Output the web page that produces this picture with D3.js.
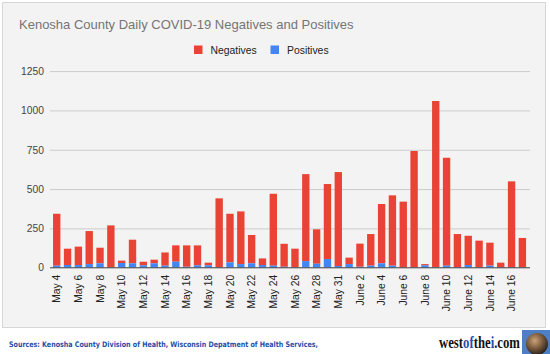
<!DOCTYPE html>
<html lang="en">
<head>
    <meta charset="UTF-8">
    <title>Kenosha County Daily COVID-19 Negatives and Positives</title>
    <script src="https://d3js.org/d3.v7.min.js"></script>
    <style>
        body { margin: 0; background: #fff; }
    </style>
</head>
<body>
    <svg id="chart" width="550" height="354"></svg>
    <script>
        // values
        const dates = ["May 4", "May 5", "May 6", "May 7", "May 8", "May 9", "May 10", "May 11", "May 12", "May 13",
            "May 14", "May 15", "May 16", "May 17", "May 18", "May 19", "May 20", "May 21", "May 22", "May 23",
            "May 24", "May 25", "May 26", "May 27", "May 28", "May 29", "May 31", "June 1", "June 2", "June 3",
            "June 4", "June 5", "June 6", "June 7", "June 8", "June 9", "June 10", "June 11", "June 12", "June 13",
            "June 14", "June 15", "June 16", "June 17"];
        const negatives = [330, 104, 117, 210, 99, 267, 15, 150, 23, 23,
            84, 104, 136, 127, 17, 437, 309, 335, 180, 42,
            457, 146, 117, 553, 219, 477, 597, 41, 147, 201,
            377, 447, 418, 738, 8, 1057, 686, 210, 186, 168,
            146, 28, 545, 185];
        const positives = [13, 17, 17, 23, 28, 2, 30, 28, 15, 28,
            13, 38, 6, 15, 15, 4, 34, 23, 28, 17,
            13, 6, 4, 42, 25, 55, 11, 23, 6, 13,
            28, 13, 2, 4, 15, 3, 13, 4, 17, 4,
            13, 4, 4, 4];
        const yTicks = [0, 250, 500, 750, 1000, 1250];
        const xTickLabels = dates.filter((d, i) => i % 2 === 0);

        const svg = d3.select("#chart");
        const font = "Arial, 'Liberation Sans', sans-serif";

        // panel
        svg.append("rect")
            .attr("x", 2.5).attr("y", 2.5)
            .attr("width", 543).attr("height", 325)
            .attr("fill", "#f3f3f3")
            .attr("stroke", "#d6d6d6");

        const xScale = d3.scaleBand()
            .domain(dates)
            .range([51.3, 527.8])
            .paddingInner(0.32)
            .paddingOuter(0.16);

        const yScale = d3.scaleLinear()
            .domain([0, 1250])
            .range([267.7, 71.1]);

        // gridlines + y labels
        svg.append("g")
            .attr("transform", "translate(50,0)")
            .call(d3.axisLeft(yScale).tickValues(yTicks).tickFormat(d3.format("d")).tickSize(-480).tickPadding(6))
            .call(g => g.select(".domain").remove())
            .call(g => g.selectAll(".tick line").attr("stroke", "#cccccc"))
            .call(g => g.selectAll(".tick text")
                .attr("fill", "#444")
                .style("font-family", font)
                .style("font-size", "10.3px"));

        // stacked bars: positives at the bottom, negatives above
        const bars = svg.append("g");
        dates.forEach((d, i) => {
            const x = xScale(d);
            const w = xScale.bandwidth();
            bars.append("rect")
                .attr("x", x).attr("width", w)
                .attr("y", yScale(positives[i] + negatives[i]))
                .attr("height", yScale(positives[i]) - yScale(positives[i] + negatives[i]))
                .attr("fill", "#ea4335");
            bars.append("rect")
                .attr("x", x).attr("width", w)
                .attr("y", yScale(positives[i]))
                .attr("height", yScale(0) - yScale(positives[i]))
                .attr("fill", "#4285f4");
        });

        // baseline
        svg.append("line")
            .attr("x1", 50).attr("x2", 530)
            .attr("y1", yScale(0)).attr("y2", yScale(0))
            .attr("stroke", "#555").attr("stroke-width", 1);

        // x labels, rotated
        svg.append("g")
            .attr("transform", `translate(0,${yScale(0)})`)
            .call(d3.axisBottom(xScale).tickValues(xTickLabels).tickSize(0))
            .call(g => g.select(".domain").remove())
            .call(g => g.selectAll(".tick text")
                .attr("transform", "rotate(-90)")
                .attr("text-anchor", "end")
                .attr("x", -7)
                .attr("y", 0)
                .attr("dy", "0.35em")
                .attr("fill", "#222")
                .style("font-family", font)
                .style("font-size", "10.3px"));

        // title
        svg.append("text")
            .attr("x", 19).attr("y", 28.5)
            .attr("fill", "#757575")
            .style("font-family", font)
            .style("font-size", "13px")
            .text("Kenosha County Daily COVID-19 Negatives and Positives");

        // legend
        const legend = [{ name: "Negatives", color: "#ea4335", x: 194 }, { name: "Positives", color: "#4285f4", x: 270.5 }];
        legend.forEach(l => {
            svg.append("rect")
                .attr("x", l.x).attr("y", 45.5)
                .attr("width", 8.5).attr("height", 8.5)
                .attr("fill", l.color);
            svg.append("text")
                .attr("x", l.x + 16.5).attr("y", 53.7)
                .attr("fill", "#222")
                .style("font-family", font)
                .style("font-size", "10.4px")
                .text(l.name);
        });

        // footer
        svg.append("text")
            .attr("x", 9).attr("y", 346.5)
            .attr("fill", "#1f4fa8")
            .attr("font-weight", "bold")
            .attr("textLength", 309)
            .attr("lengthAdjust", "spacingAndGlyphs")
            .style("font-family", "'DejaVu Sans', Verdana, sans-serif")
            .style("font-size", "7.6px")
            .text("Sources: Kenosha County Division of Health, Wisconsin Depatment of Health Services,");

        // logo text, squeezed to the reference width
        const logoG = svg.append("g");
        const logo = logoG.append("text")
            .attr("x", 0).attr("y", 0)
            .attr("font-weight", "bold")
            .style("font-family", "'Liberation Serif', 'DejaVu Serif', serif")
            .style("font-size", "16px");
        [["west", "#111"], ["of", "#1f4fa8"], ["the", "#111"], ["i", "#1f4fa8"], [".com", "#111"]].forEach(p => {
            logo.append("tspan").attr("fill", p[1]).text(p[0]);
        });
        const lw = logo.node().getComputedTextLength();
        logoG.attr("transform", `translate(439,347.5) scale(${81 / lw},1)`);

        // globe badge
        const defs = svg.append("defs");
        const grad = defs.append("radialGradient").attr("id", "globe").attr("cx", "40%").attr("cy", "35%").attr("r", "65%");
        grad.append("stop").attr("offset", "0%").attr("stop-color", "#c9a27a");
        grad.append("stop").attr("offset", "55%").attr("stop-color", "#7a5a3c");
        grad.append("stop").attr("offset", "100%").attr("stop-color", "#2b2520");
        svg.append("rect")
            .attr("x", 522).attr("y", 330)
            .attr("width", 28).attr("height", 24)
            .attr("fill", "#4c7fc4");
        svg.append("circle")
            .attr("cx", 537).attr("cy", 344).attr("r", 11)
            .attr("fill", "url(#globe)");
    </script>
</body>
</html>
